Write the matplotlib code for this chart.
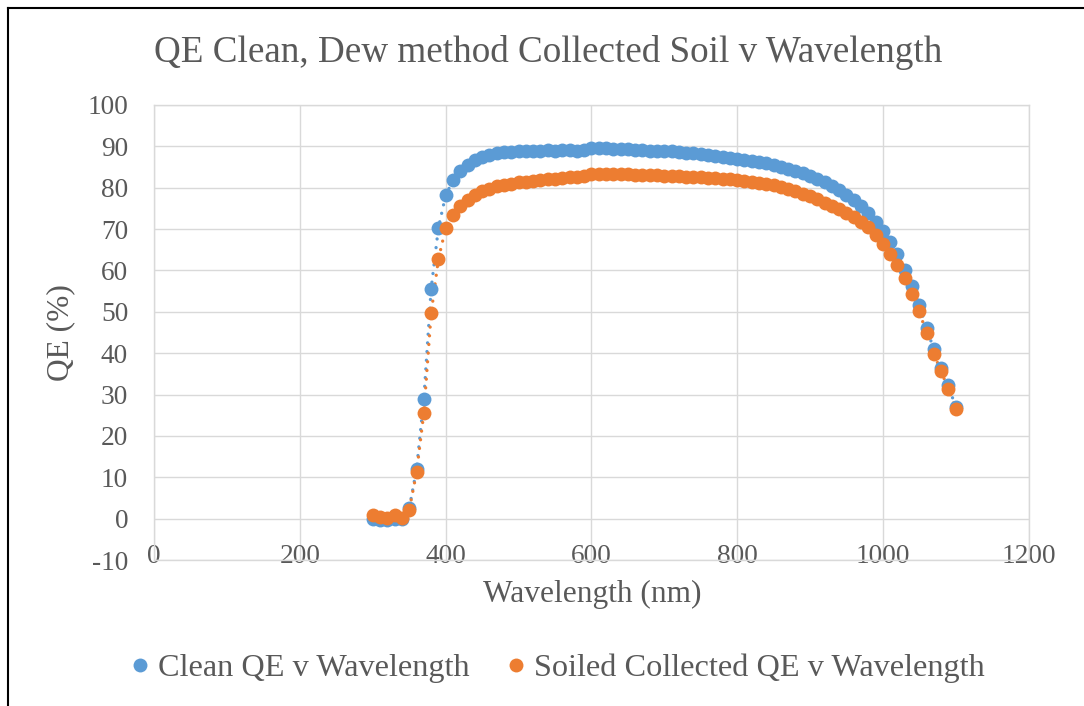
import matplotlib
matplotlib.use("Agg")
import matplotlib.pyplot as plt
from matplotlib.lines import Line2D

wavelength = list(range(300, 1101, 10))

clean_qe = [
    -0.1, -0.3, -0.4, -0.2, -0.1, 2.5, 12.0, 29.0, 55.5, 70.3,        # 300-390
    78.2, 81.8, 84.0, 85.5, 86.6, 87.4, 88.0, 88.4, 88.6, 88.7,       # 400-490
    88.8, 88.9, 89.0, 89.0, 89.1, 89.0, 89.1, 89.2, 89.0, 89.1,       # 500-590
    89.5, 89.6, 89.5, 89.4, 89.3, 89.3, 89.2, 89.1, 89.0, 89.0,       # 600-690
    88.9, 88.8, 88.7, 88.5, 88.3, 88.1, 87.9, 87.7, 87.5, 87.2,       # 700-790
    87.0, 86.8, 86.5, 86.2, 85.9, 85.5, 85.1, 84.6, 84.1, 83.5,       # 800-890
    82.8, 82.1, 81.3, 80.4, 79.4, 78.3, 77.0, 75.6, 73.9, 71.7,       # 900-990
    69.5, 66.8, 63.9, 60.2, 56.2, 51.7, 46.1, 40.9, 36.4, 32.2,       # 1000-1090
    27.0,                                                             # 1100
]

soiled_qe = [
    0.8, 0.3, 0.2, 1.0, 0.1, 2.2, 11.2, 25.6, 49.6, 62.8,             # 300-390
    70.2, 73.3, 75.5, 77.0, 78.2, 79.1, 79.8, 80.3, 80.7, 81.0,       # 400-490
    81.3, 81.5, 81.7, 81.9, 82.0, 82.2, 82.3, 82.5, 82.6, 82.8,       # 500-590
    83.2, 83.3, 83.3, 83.3, 83.2, 83.2, 83.1, 83.1, 83.0, 83.0,       # 600-690
    82.9, 82.9, 82.8, 82.7, 82.6, 82.5, 82.4, 82.3, 82.2, 82.0,       # 700-790
    81.9, 81.7, 81.5, 81.2, 80.9, 80.6, 80.2, 79.7, 79.2, 78.6,       # 800-890
    77.9, 77.2, 76.4, 75.6, 74.8, 74.0, 72.9, 71.7, 70.4, 68.5,       # 900-990
    66.5, 63.9, 61.4, 58.2, 54.3, 50.1, 44.9, 39.9, 35.6, 31.4,       # 1000-1090
    26.5,                                                             # 1100
]

x_ticks = [0, 200, 400, 600, 800, 1000, 1200]
y_ticks = [-10, 0, 10, 20, 30, 40, 50, 60, 70, 80, 90, 100]

title = "QE Clean, Dew method Collected Soil v Wavelength"
x_title = "Wavelength (nm)"
y_title = "QE (%)"
series_names = ["Clean QE v Wavelength", "Soiled Collected QE v Wavelength"]

BLUE = "#5B9BD5"
ORANGE = "#ED7D31"
TEXT = "#595959"
GRID = "#D9D9D9"
FONT = "Liberation Serif"

plt.rcParams["font.family"] = [FONT, "DejaVu Serif"]

fig = plt.figure(figsize=(10.84, 7.06), dpi=100)
W, H = 1084, 706
left_px, right_px, top_px, bottom_px = 154.3, 1028.5, 105, 560
ax = fig.add_axes([left_px / W, 1 - bottom_px / H,
                   (right_px - left_px) / W, (bottom_px - top_px) / H])

MS = 10.0
for xs, ys, col, name in [(wavelength, clean_qe, BLUE, series_names[0]),
                          (wavelength, soiled_qe, ORANGE, series_names[1])]:
    ax.plot(xs, ys, linestyle=(0, (0.01, 2.6)), dash_capstyle="round",
            color=col, linewidth=2.4, zorder=3)
    ax.plot(xs, ys, linestyle="none", marker="o", markersize=MS,
            markerfacecolor=col, markeredgewidth=0, color=col, zorder=4,
            label=name)

ax.set_xlim(0, 1200)
ax.set_ylim(-10, 100)
ax.set_xticks(x_ticks)
ax.set_yticks(y_ticks)
ax.set_xticklabels([str(v) for v in x_ticks])
ax.set_yticklabels([str(v) for v in y_ticks])
ax.grid(True, color=GRID, linewidth=1.0, zorder=0)
ax.set_axisbelow(True)
for s in ax.spines.values():
    s.set_color(GRID)
    s.set_linewidth(1.0)

ax.tick_params(axis="both", length=0, labelsize=19.7, colors=TEXT)
ax.tick_params(axis="y", pad=18.8)
ax.tick_params(axis="x", pad=-2.2)
for lab in ax.get_xticklabels():
    lab.set_verticalalignment("center")

fig.text(548.6 / W, 1 - 52 / H, title, ha="center", va="center",
         fontsize=26.7, color=TEXT)
fig.text(592.5 / W, 1 - 594 / H, x_title, ha="center", va="center",
         fontsize=22.6, color=TEXT)
fig.text(61 / W, 1 - 333 / H, y_title, ha="center", va="center",
         fontsize=22.6, color=TEXT, rotation=90)

handles = [Line2D([], [], linestyle="none", marker="o", markersize=MS,
                  markerfacecolor=c, markeredgewidth=0) for c in (BLUE, ORANGE)]
leg = fig.legend(handles, series_names, loc="center",
                 bbox_to_anchor=(558.5 / W, 1 - 668 / H), ncol=2, frameon=False,
                 prop={"family": FONT, "size": 23.2}, handlelength=0.5,
                 handletextpad=0.3, columnspacing=1.2, borderaxespad=0)
for t in leg.get_texts():
    t.set_color(TEXT)

# outer chart border (left and top edges visible)
fig.add_artist(Line2D([8 / W, 8 / W], [0, 1 - 8 / H], color="black",
                      linewidth=1.5, transform=fig.transFigure))
fig.add_artist(Line2D([8 / W, 1], [1 - 8 / H, 1 - 8 / H], color="black",
                      linewidth=1.5, transform=fig.transFigure))

fig.savefig("out.png", dpi=100)
